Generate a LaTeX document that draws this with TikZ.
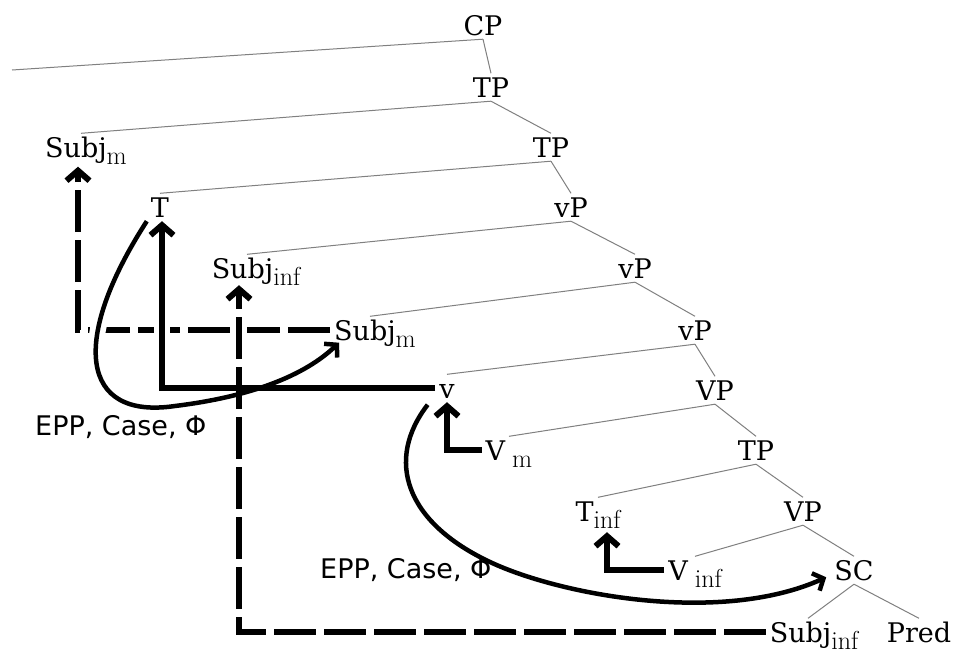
\documentclass[tikz,border=0pt]{standalone}
\usepackage{fontspec}
\newfontfamily\nodefont{DejaVu Serif}
\newfontfamily\lblfont{DejaVu Sans}
\usetikzlibrary{arrows.meta,calc}

% lowered subscript in Latin Modern, with optional kern before it
\newcommand\lo[2][0pt]{\kern#1\raisebox{-7pt}{\normalfont\fontsize{26}{26}\selectfont #2}}

\begin{document}
\begin{tikzpicture}[x=1pt,y=-1pt,
  cat/.style={font=\nodefont\fontsize{27}{32}\selectfont, inner xsep=4pt,
    inner ysep=4pt, text height=19.5pt, text depth=0pt, anchor=base},
  lbl/.style={font=\lblfont\fontsize{27}{32}\selectfont, inner sep=0pt, anchor=base west},
  branch/.style={draw=black!50, line width=1pt},
  headbig/.style={-{Straight Barb[length=10pt,width=23pt]}},
  headcurve/.style={-{Straight Barb[length=8.5pt,width=19pt]}},
  smove/.style={line width=6pt, headbig},
  dmove/.style={line width=6pt, dash pattern=on 42pt off 8pt, headbig},
  cmove/.style={line width=4.5pt, headcurve},
  halo/.style={draw=white, line width=16pt}
]
\fill[white] (0,0) rectangle (955,648);
\path[use as bounding box] (0,0) rectangle (955,648);

% tree nodes
\node[cat] (cp) at (483,35) {CP};
\node[cat] (tp1) at (491,97) {TP};
\node[cat] (subjm1) at (86,157) {Subj\lo{m}};
\node[cat] (tp2) at (551,157) {TP};
\node[cat] (t) at (160,217) {T};
\node[cat] (vp1) at (571,217) {vP};
\node[cat] (subjinf1) at (256,278) {Subj\lo{inf}};
\node[cat] (vp2) at (635,278) {vP};
\node[cat] (subjm2) at (375,340) {Subj\lo{m}};
\node[cat] (vp3) at (695,340) {vP};
\node[cat] (v) at (447,398) {v};
\node[cat] (vpa) at (715,400) {VP};
\node[cat] (vm) at (509,460) {V\lo[7pt]{m}};
\node[cat] (tp3) at (756,460) {TP};
\node[cat] (tinf) at (598,521) {T\lo{inf}};
\node[cat] (vpb) at (803,521) {VP};
\node[cat] (vinf) at (695,580) {V\lo[7pt]{inf}};
\node[cat] (sc) at (854,580) {SC};
\node[cat] (subjinf2) at (814,642) {Subj\lo{inf}};
\node[cat] (pred) at (919,642) {Pred};
\coordinate (cpleft) at (12,70);

% branches
\draw[branch] (cp.south) -- (cpleft);
\draw[branch] (cp.south) -- (tp1.north);
\draw[branch] (tp1.south) -- ([xshift=-5pt]subjm1.north);
\draw[branch] (tp1.south) -- (tp2.north);
\draw[branch] (tp2.south) -- (t.north);
\draw[branch] (tp2.south) -- (vp1.north);
\draw[branch] (vp1.south) -- ([xshift=-9pt]subjinf1.north);
\draw[branch] (vp1.south) -- (vp2.north);
\draw[branch] (vp2.south) -- ([xshift=-5pt]subjm2.north);
\draw[branch] (vp2.south) -- (vp3.north);
\draw[branch] (vp3.south) -- (v.north);
\draw[branch] (vp3.south) -- (vpa.north);
\draw[branch] (vpa.south) -- (vm.north);
\draw[branch] (vpa.south) -- (tp3.north);
\draw[branch] (tp3.south) -- (tinf.north);
\draw[branch] (tp3.south) -- (vpb.north);
\draw[branch] (vpb.south) -- (vinf.north);
\draw[branch] (vpb.south) -- (sc.north);
\draw[branch] (sc.south) -- ([xshift=-6pt]subjinf2.north);
\draw[branch] (sc.south) -- (pred.north);

% raising of the matrix subject (lowest layer)
\draw[dmove] (subjm2.west) -| ([xshift=-8pt,yshift=-5.5pt]subjm1.south);

% white gaps where other movements cross it
\draw[halo] (v.west) -| ([xshift=2pt]t.south);
\draw[halo] (subjinf2.west) -| ([xshift=-17pt,yshift=-3pt]subjinf1.south);
\draw[halo] (t.south west) .. controls (70,340) and (80,420) .. (175,406)
  .. controls (240,398) and (300,380) .. ([xshift=9pt,yshift=1.5pt]subjm2.south west);

% head movements
\draw[smove] (v.west) -| ([xshift=2pt]t.south);
\draw[smove] (vm.west) -| (v.south);
\draw[smove] (vinf.west) -| ([xshift=9pt,yshift=-7pt]tinf.south);

% raising of the embedded subject
\draw[dmove] (subjinf2.west) -| ([xshift=-17pt,yshift=-3pt]subjinf1.south);

% agreement relations
\draw[cmove] (t.south west) .. controls (70,340) and (80,420) .. (175,406)
  .. controls (240,398) and (300,380) .. ([xshift=9pt,yshift=1.5pt]subjm2.south west);
\draw[cmove] ([xshift=-7.5pt,yshift=-2.5pt]v.south west) .. controls (385,460) and (405,522) .. (490,562)
  .. controls (560,595) and (720,625) .. ([xshift=-4pt,yshift=-7pt]sc.west);

\node[lbl] (epp1) at (35,435) {EPP, Case, Φ};
\node[lbl] (epp2) at (320,578) {EPP, Case, Φ};
\end{tikzpicture}
\end{document}
